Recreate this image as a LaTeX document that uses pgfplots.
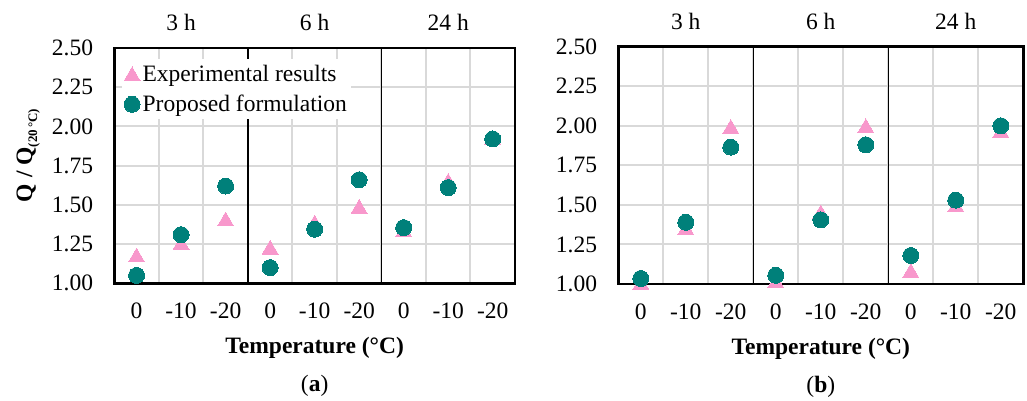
\documentclass[border=0pt]{standalone}
\usepackage{pgfplots}
\pgfplotsset{compat=1.18}
\usepackage{fontspec}
\setmainfont{Liberation Serif}
\definecolor{pinkm}{RGB}{248,152,204}
\definecolor{tealm}{RGB}{0,128,122}
\definecolor{gridc}{RGB}{217,217,217}
\newcommand{\bigf}{\fontsize{23.5bp}{28bp}\selectfont}

\pgfplotsset{
  panel/.style={
    scale only axis,
    xmin=-0.5, xmax=8.5, ymin=1, ymax=2.5,
    xtick={0,1,2,3,4,5,6,7,8},
    xticklabels={0,-10,-20,0,-10,-20,0,-10,-20},
    minor xtick={0.5,1.5,2.5,3.5,4.5,5.5,6.5,7.5},
    xminorgrids=true, xmajorgrids=false,
    ytick={1,1.25,1.5,1.75,2,2.25,2.5},
    ymajorgrids=true,
    grid style={draw=gridc, line width=2bp},
    minor grid style={draw=gridc, line width=2bp},
    major tick length=0pt, minor tick length=0pt,
    tick style={draw=none},
    axis line style={line width=2.5bp, black},
    ticklabel style={font=\bigf},
    yticklabel style={anchor=east, inner sep=0pt, xshift=-21bp,
      /pgf/number format/fixed, /pgf/number format/zerofill,
      /pgf/number format/precision=2, /pgf/number format/assume math mode=true},
    xticklabel style={anchor=base, inner sep=0pt, yshift=-35bp},
    xlabel={\textbf{Temperature (°C)}},
    xlabel style={at={(rel axis cs:0.5,0)}, anchor=base, inner sep=0pt, yshift=-70bp, font=\bigf},
    clip=false,
    legend image code/.code={\draw[mark repeat=2,mark phase=2,#1] plot coordinates {(0bp,0bp) (9bp,0bp) (18bp,0bp)};},
  },
  expm/.style={only marks, mark=triangle*, mark size=9.2bp,
    mark options={fill=pinkm, draw=pinkm, line width=0pt, yshift=-2.3bp}},
  propm/.style={only marks, mark=*, mark size=8bp,
    mark options={fill=tealm, draw=tealm, line width=0pt}},
}

\begin{document}
\begin{tikzpicture}
\useasboundingbox (0,0) rectangle (1027bp,401bp);

% ---------- panel (a)
\begin{axis}[panel,
  at={(114.3bp,117.7bp)}, anchor=south west,
  width=400.7bp, height=235.3bp,
  legend style={at={(rel axis cs:0.019,0.952)}, anchor=north west,
    draw=none, fill=white, font=\bigf, legend cell align=left,
    inner xsep=2bp, inner ysep=3bp, row sep=7.5bp,
    nodes={inner sep=2.5bp}},
]
\addplot[expm] coordinates {
 (0,1.18) (1,1.26) (2,1.41) (3,1.23) (4,1.39) (5,1.49) (6,1.34) (7,1.655) (8,1.93)};
\addlegendentry{Experimental results}
\addplot[propm] coordinates {
 (0,1.05) (1,1.31) (2,1.62) (3,1.10) (4,1.345) (5,1.66) (6,1.355) (7,1.61) (8,1.92)};
\addlegendentry{Proposed formulation}
\draw[black, line width=1.5bp] (axis cs:2.5,1) -- (axis cs:2.5,2.5);
\draw[black, line width=1.5bp] (axis cs:5.5,1) -- (axis cs:5.5,2.5);
\node[anchor=base, font=\bigf] at (axis cs:1,2.5) [yshift=17bp] {3 h};
\node[anchor=base, font=\bigf] at (axis cs:4,2.5) [yshift=17bp] {6 h};
\node[anchor=base, font=\bigf] at (axis cs:7,2.5) [yshift=17bp] {24 h};
\node[anchor=base, font=\bigf] at (rel axis cs:0.5,0) [yshift=-108bp] {(\textbf{a})};
\end{axis}

% ---------- panel (b)
\begin{axis}[panel,
  at={(618.3bp,117bp)}, anchor=south west,
  width=405bp, height=237.3bp,
]
\addplot[expm] coordinates {
 (0,1.01) (1,1.355) (2,1.995) (3,1.02) (4,1.455) (5,2.0) (6,1.085) (7,1.50) (8,1.97)};
\addplot[propm] coordinates {
 (0,1.035) (1,1.39) (2,1.865) (3,1.055) (4,1.405) (5,1.88) (6,1.18) (7,1.53) (8,2.0)};
\draw[black, line width=1.5bp] (axis cs:2.5,1) -- (axis cs:2.5,2.5);
\draw[black, line width=1.5bp] (axis cs:5.5,1) -- (axis cs:5.5,2.5);
\node[anchor=base, font=\bigf] at (axis cs:1,2.5) [yshift=17bp] {3 h};
\node[anchor=base, font=\bigf] at (axis cs:4,2.5) [yshift=17bp] {6 h};
\node[anchor=base, font=\bigf] at (axis cs:7,2.5) [yshift=17bp] {24 h};
\node[anchor=base, font=\bigf] at (rel axis cs:0.5,0) [yshift=-108bp] {(\textbf{b})};
\end{axis}

% y label
\node[rotate=90, anchor=base, font=\bigf] at (32bp,245.5bp)
  {\textbf{Q / Q}\raisebox{-5bp}{\fontsize{13bp}{13bp}\selectfont\textbf{(20\,°C)}}};
\end{tikzpicture}
\end{document}
